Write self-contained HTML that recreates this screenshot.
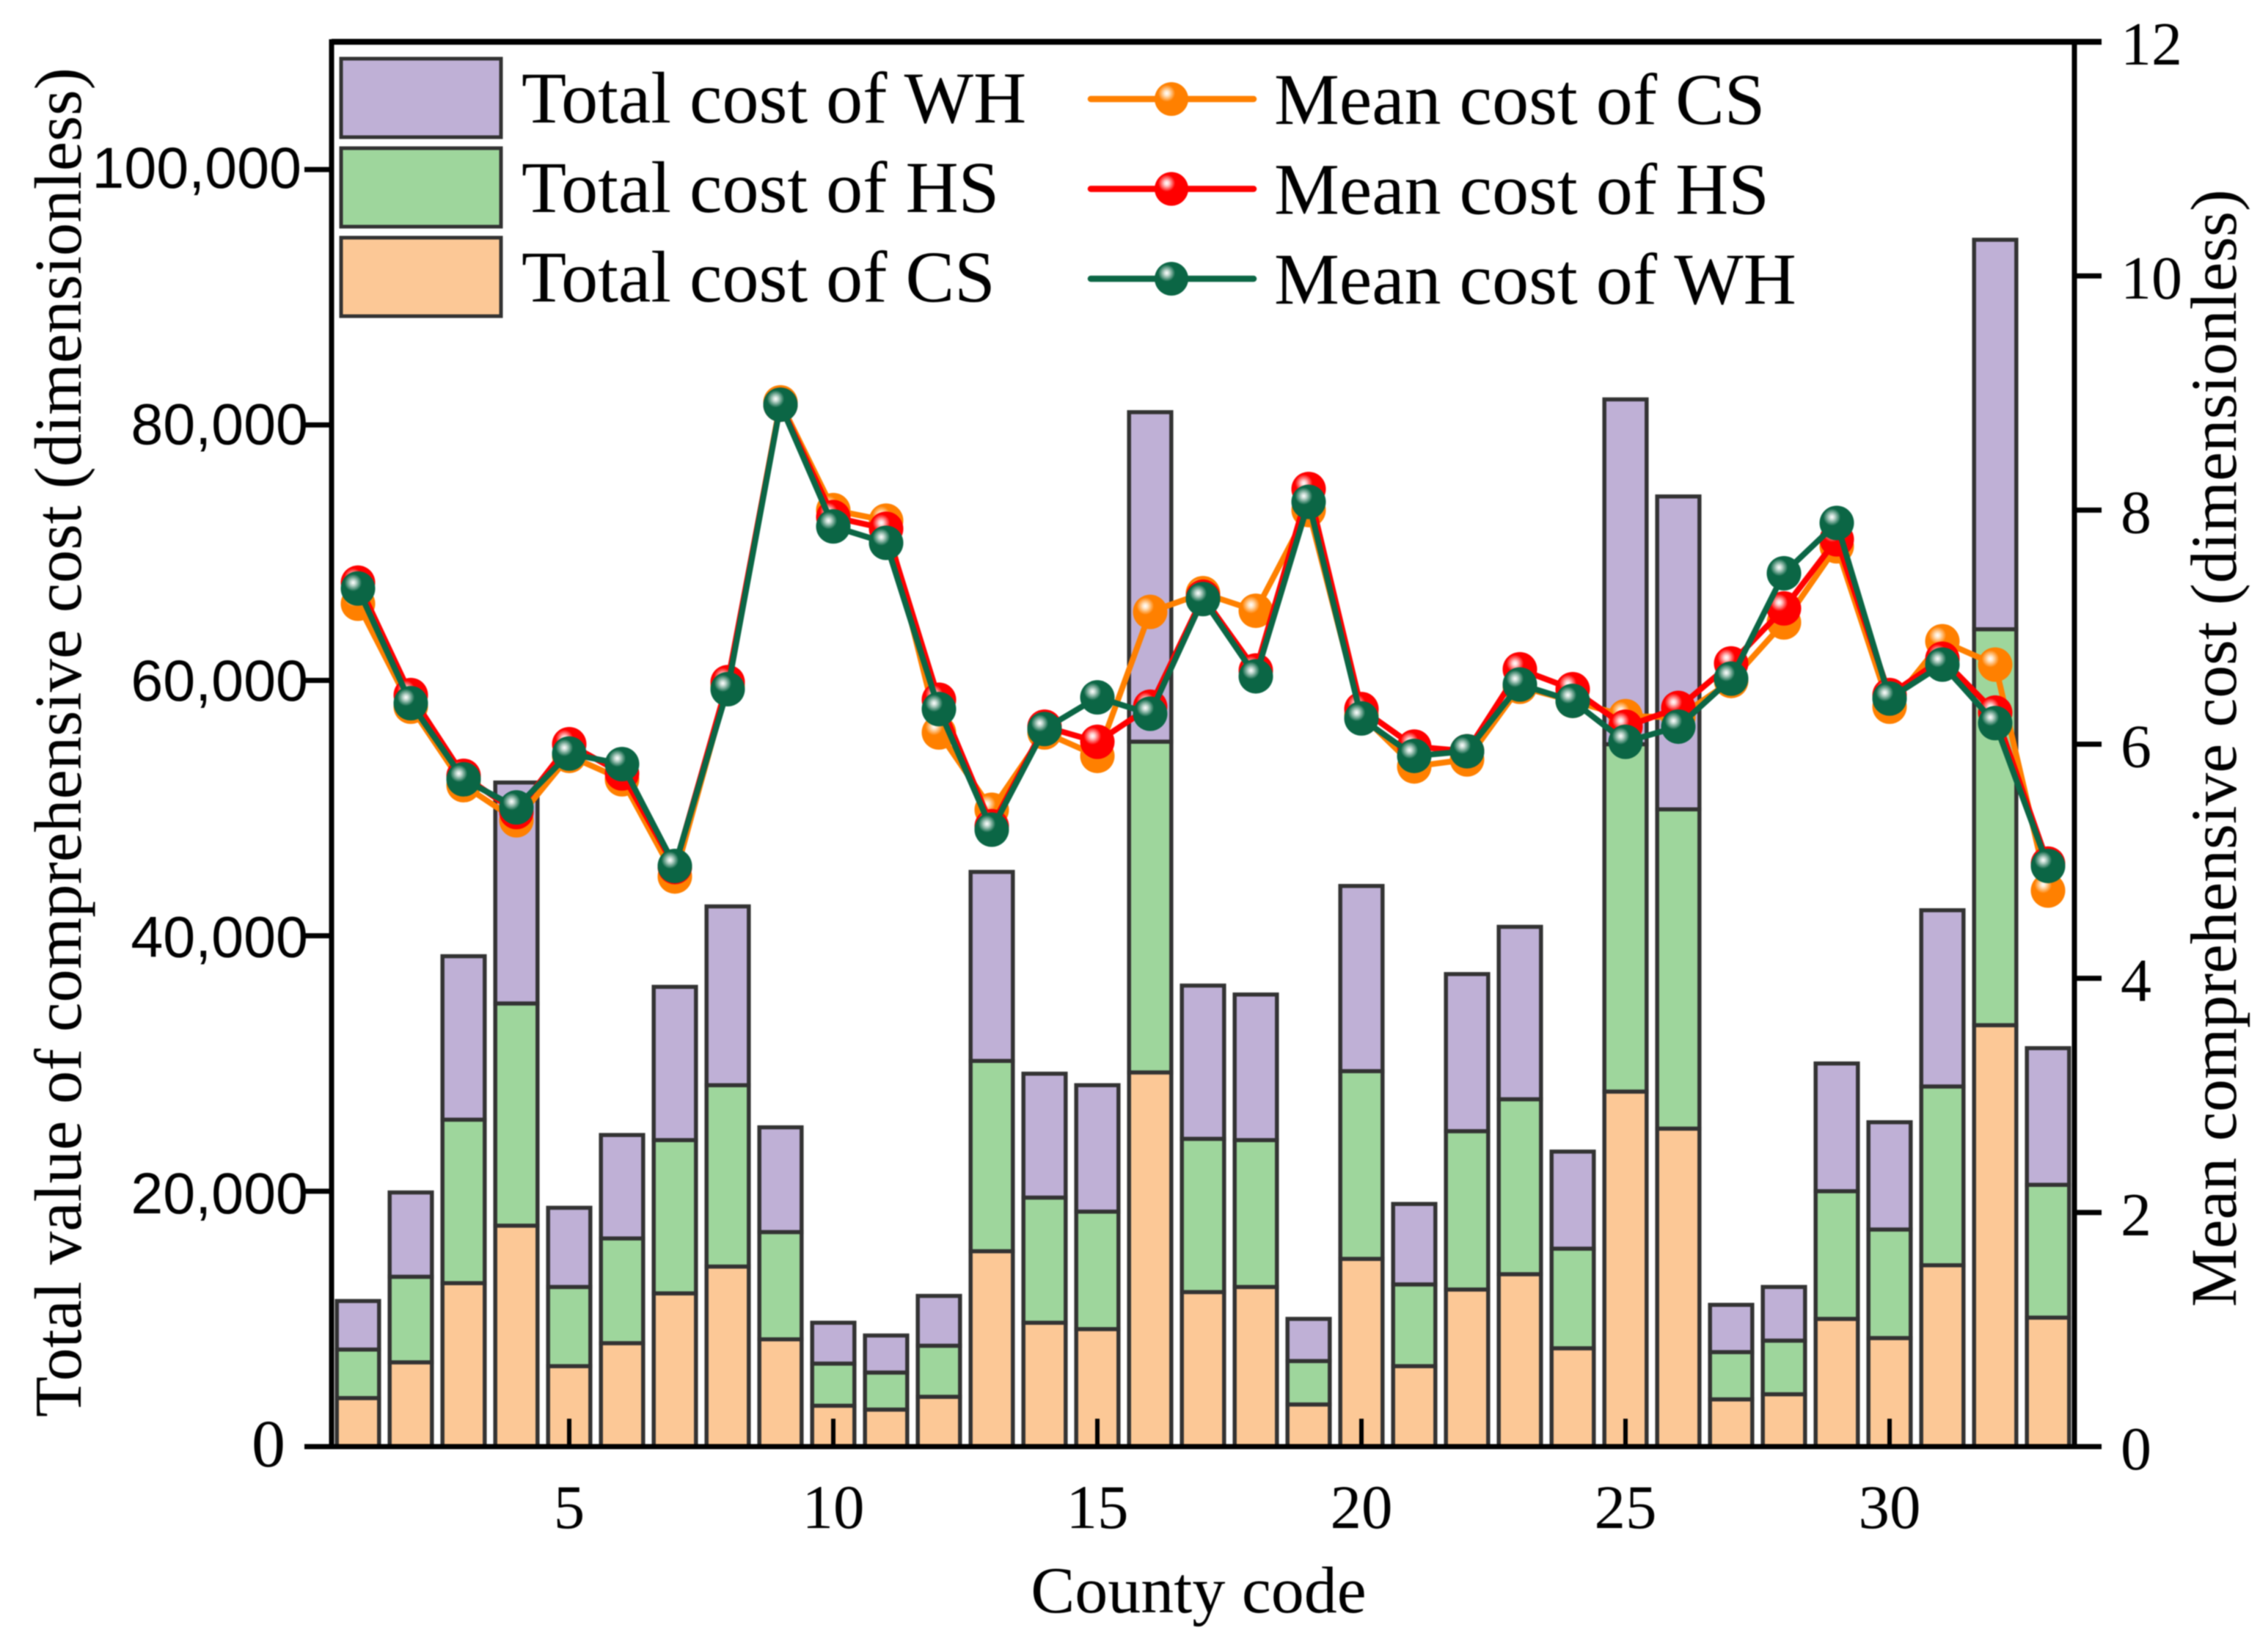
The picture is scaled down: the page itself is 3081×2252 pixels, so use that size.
<!DOCTYPE html>
<html>
<head>
<meta charset="utf-8">
<title>Total and mean comprehensive cost by county</title>
<style>
html,body{margin:0;padding:0;background:#fff;}
#chart{display:block;width:3081px;height:2252px;filter:blur(0.9px);}
text{font-family:"Liberation Serif",serif;fill:#000;}
text.sans{font-family:"Liberation Sans",sans-serif;}
</style>
</head>
<body>
<svg id="chart" xmlns="http://www.w3.org/2000/svg" width="3081" height="2252" viewBox="0 0 3081 2252">
<defs>
<radialGradient id="g-orange" cx="0.36" cy="0.33" r="0.6"><stop offset="0" stop-color="#fff"/><stop offset="0.12" stop-color="#ffe6c8"/><stop offset="0.42" stop-color="#ff8000"/></radialGradient>
<radialGradient id="g-red" cx="0.36" cy="0.33" r="0.6"><stop offset="0" stop-color="#fff"/><stop offset="0.12" stop-color="#ffd0d0"/><stop offset="0.42" stop-color="#ff0000"/></radialGradient>
<radialGradient id="g-green" cx="0.36" cy="0.33" r="0.6"><stop offset="0" stop-color="#fff"/><stop offset="0.12" stop-color="#c8dcd4"/><stop offset="0.42" stop-color="#0b6645"/></radialGradient>
</defs>
<g id="bars"></g>
<g id="axes"></g>
<g id="lines"></g>
<g id="legend"></g>
<text transform="translate(110,1012) rotate(-90)" text-anchor="middle" font-size="90.7">Total value of comprehensive cost (dimensionless)</text>
<text transform="translate(3048,1020) rotate(-90)" text-anchor="middle" font-size="89.5">Mean comprehensive cost (dimensionless)</text>
<text x="1634" y="2198" text-anchor="middle" font-size="90">County code</text>
</svg>
<script>
const counties = [1,2,3,4,5,6,7,8,9,10,11,12,13,14,15,16,17,18,19,20,21,22,23,24,25,26,27,28,29,30,31,32,33];
const totalCS = [3800,6600,12800,17300,6300,8100,12000,14100,8400,3200,2900,3900,15300,9700,9200,29300,12100,12500,3300,14700,6300,12300,13500,7700,27800,24900,3700,4100,10000,8500,14200,33000,10100];
const totalHS = [3800,6700,12800,17400,6200,8200,12000,14200,8400,3300,2900,4000,14900,9800,9200,25900,12000,11500,3400,14700,6400,12400,13700,7800,27200,25000,3700,4200,10000,8500,14000,31000,10400];
const totalWH = [3800,6600,12800,17300,6200,8100,12000,14000,8200,3200,2900,3900,14800,9700,9900,25800,12000,11400,3300,14500,6300,12300,13500,7600,27000,24500,3700,4200,10000,8400,13800,30500,10700];
const meanCS = [7.20,6.32,5.65,5.35,5.90,5.70,4.87,6.50,8.92,8.00,7.91,6.10,5.44,6.10,5.90,7.13,7.29,7.14,8.00,6.25,5.81,5.87,6.49,6.37,6.24,6.23,6.54,7.04,7.69,6.32,6.88,6.68,4.75];
const meanHS = [7.38,6.42,5.73,5.42,6.00,5.75,4.95,6.53,8.90,7.94,7.84,6.38,5.30,6.15,6.02,6.32,7.26,6.63,8.18,6.30,5.98,5.94,6.64,6.47,6.15,6.31,6.69,7.16,7.75,6.42,6.73,6.27,4.98];
const meanWH = [7.33,6.35,5.70,5.46,5.92,5.83,4.96,6.47,8.90,7.86,7.72,6.30,5.27,6.13,6.40,6.26,7.24,6.58,8.07,6.22,5.90,5.94,6.51,6.37,6.02,6.15,6.56,7.46,7.89,6.39,6.68,6.18,4.96];
const xTicks = [5,10,15,20,25,30];
const leftTicks = [0,20000,40000,60000,80000,100000];
const leftTickLabels = ["0","20,000","40,000","60,000","80,000","100,000"];
const rightTicks = [0,2,4,6,8,10,12];

const NS = "http://www.w3.org/2000/svg";
const plot = {left:452, right:2828, top:57, bottom:1972};
function xScale(v){ return plot.left + (v - 0.5) / 33 * (plot.right - plot.left); }
function yLeft(v){ return plot.bottom - v / 110000 * (plot.bottom - plot.top); }
function yRight(v){ return plot.bottom - v / 12 * (plot.bottom - plot.top); }
function mk(tag, attrs, parent){
  const el = document.createElementNS(NS, tag);
  for (const k in attrs) el.setAttribute(k, attrs[k]);
  parent.appendChild(el);
  return el;
}
const COL = {cs:"#fcc896", hs:"#9ed69c", wh:"#bfb0d6", lcs:"#ff8000", lhs:"#ff0000", lwh:"#0b6645"};

const barsG = document.getElementById("bars");
const stackKeys = ["cs","hs","wh"];
const stackArrays = [totalCS,totalHS,totalWH];
counties.forEach(function(c,i){
  let base = 0;
  stackArrays.forEach(function(arr,s){
    const y1 = yLeft(base), y2 = yLeft(base + arr[i]);
    const r = mk("rect",{x:xScale(c)-28.8,y:y2,width:57.6,height:y1-y2,fill:COL[stackKeys[s]],stroke:"#333",'stroke-width':5.5},barsG);
    
    
    base += arr[i];
  });
});

const axesG = document.getElementById("axes");
function axisLine(x1,y1,x2,y2,w,name){
  const l = mk("line",{x1:x1,y1:y1,x2:x2,y2:y2,stroke:"#000",'stroke-width':w},axesG);
  
  
}
axisLine(plot.left-37,plot.bottom,plot.right+37,plot.bottom,7,'x-axis-line');
axisLine(plot.left,plot.top-3.5,plot.left,plot.bottom,7,'left-y-axis-line');
axisLine(plot.right,plot.top-3.5,plot.right,plot.bottom,7,'right-y-axis-line');
axisLine(plot.left,plot.top,plot.right+37,plot.top,8,'top-axis-line');
xTicks.forEach(function(t){
  axisLine(xScale(t),plot.bottom,xScale(t),plot.bottom-38,6,'x-tick-' + t);
  const tx = mk("text",{x:xScale(t),y:2083,'text-anchor':'middle','font-size':85},axesG);
  tx.textContent = String(t);
  
  
});
leftTicks.forEach(function(t,i){
  axisLine(plot.left-37,yLeft(t),plot.left,yLeft(t),7,'left-tick-' + t);
  let tx;
  if (t === 0) {
    tx = mk("text",{x:389,y:yLeft(t)+27,'text-anchor':'end','font-size':92},axesG);
  } else {
    const endX = t === 100000 ? 411 : 420;
    tx = mk("text",{x:endX,y:yLeft(t)+30-5*(t-20000)/80000,'text-anchor':'end','font-size':79,'class':'sans'},axesG);
  }
  tx.textContent = leftTickLabels[i];
  
  
});
rightTicks.forEach(function(t){
  axisLine(plot.right,yRight(t),plot.right+37,yRight(t),7,'right-tick-' + t);
  const tx = mk("text",{x:2891,y:yRight(t)+31,'text-anchor':'start','font-size':84},axesG);
  tx.textContent = String(t);
  
  
});

const linesG = document.getElementById("lines");
function drawSeries(arr,color,grad,name){
  const g = mk("g",{},linesG);
  
  
  const pts = arr.map(function(v,i){ return xScale(counties[i]) + "," + yRight(v); }).join(" ");
  mk("polyline",{points:pts,fill:"none",stroke:color,'stroke-width':8,'stroke-linejoin':'round'},g);
  arr.forEach(function(v,i){
    const c = mk("circle",{cx:xScale(counties[i]),cy:yRight(v),r:23.5,fill:"url(#" + grad + ")"},g);
    
    
  });
}
drawSeries(meanCS,COL.lcs,"g-orange","mean-cs");
drawSeries(meanHS,COL.lhs,"g-red","mean-hs");
drawSeries(meanWH,COL.lwh,"g-green","mean-wh");

const legendG = document.getElementById("legend");
const swatchLabels = ["Total cost of WH","Total cost of HS","Total cost of CS"];
const swatchFills = [COL.wh,COL.hs,COL.cs];
const swatchKeys = ["wh","hs","cs"];
const lineLabels = ["Mean cost of CS","Mean cost of HS","Mean cost of WH"];
const lineCols = [COL.lcs,COL.lhs,COL.lwh];
const lineGrads = ["g-orange","g-red","g-green"];
const lineKeys = ["cs","hs","wh"];
swatchLabels.forEach(function(label,i){
  const rowY = 80 + i * 122;
  const r = mk("rect",{x:465,y:rowY,width:218,height:107,fill:swatchFills[i],stroke:"#333",'stroke-width':5},legendG);
  
  
  const t = mk("text",{x:711,y:rowY+87,'font-size':100},legendG);
  t.textContent = label;
  
  
});
lineLabels.forEach(function(label,i){
  const rowY = 135 + i * 122.5;
  const l = mk("line",{x1:1487,y1:rowY,x2:1709,y2:rowY,stroke:lineCols[i],'stroke-width':8.5,'stroke-linecap':'round'},legendG);
  
  
  const c = mk("circle",{cx:1597,cy:rowY,r:23,fill:"url(#" + lineGrads[i] + ")"},legendG);
  
  
  const t = mk("text",{x:1737,y:rowY+34,'font-size':100},legendG);
  t.textContent = label;
  
  
});
</script>
</body>
</html>
